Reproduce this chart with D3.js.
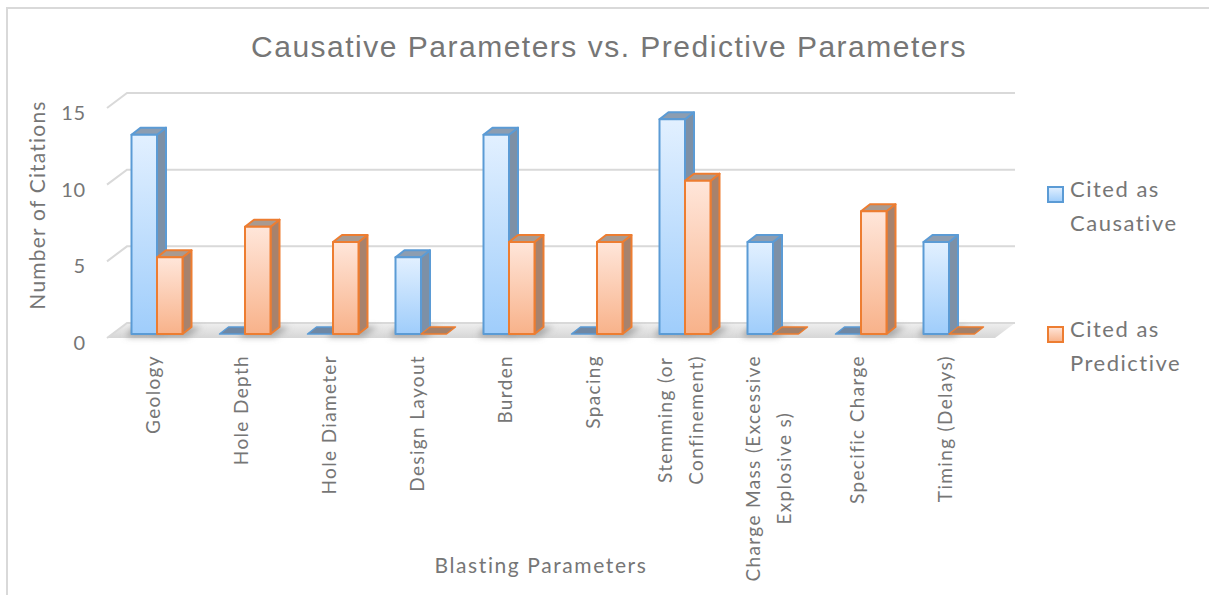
<!DOCTYPE html>
<html>
<head>
<meta charset="utf-8">
<script src="https://cdn.jsdelivr.net/npm/d3@7"></script>
<style>
  html, body { margin: 0; padding: 0; background: #fff; }
  svg { display: block; }
  text { fill: #767676; }
</style>
</head>
<body>
<svg id="chart" width="1209" height="595"></svg>
<script>
// Blasting parameters and how often each was cited
const categories = [
  "Geology", "Hole Depth", "Hole Diameter", "Design Layout", "Burden",
  "Spacing", "Stemming (or\nConfinement)", "Charge Mass (Excessive\nExplosive s)",
  "Specific Charge", "Timing (Delays)"
];
const seriesNames = ["Cited as Causative", "Cited as Predictive"];
const causative  = [13, 0, 0, 5, 13, 0, 14, 6, 0, 6];
const predictive = [5, 7, 6, 0, 6, 6, 10, 0, 8, 0];
const yTicks = [0, 5, 10, 15];

const svg = d3.select("#chart");
const labelFont = "Lato, 'Open Sans', sans-serif";

// 3D frame
const floorFrontY = 338, floorBackY = 323, wallDx = 20;
const plotLeft = 107, plotRight = 1015;
const barBaseY = 334, barDx = 9, barDy = 7;

const y = d3.scaleLinear().domain([0, 15]).range([0, 230]);
const x = d3.scaleBand().domain(categories).range([113, 993]);
const xs = d3.scaleBand().domain(seriesNames).range([-25.5, 25.5]);

const defs = svg.append("defs");
function grad(id, top, bottom) {
  const g = defs.append("linearGradient").attr("id", id)
    .attr("x1", 0).attr("y1", 0).attr("x2", 0).attr("y2", 1);
  g.append("stop").attr("offset", "0%").attr("stop-color", top);
  g.append("stop").attr("offset", "100%").attr("stop-color", bottom);
}
grad("gBlue", "#e2f0ff", "#9fcdfb");
grad("gOrange", "#ffe6da", "#f8b28a");
grad("gFloor", "#efefef", "#d6d6d6");
defs.append("filter").attr("id", "soft").attr("x", "-50%").attr("y", "-200%")
  .attr("width", "200%").attr("height", "500%")
  .append("feGaussianBlur").attr("stdDeviation", 3);

const styles = [
  { front: "url(#gBlue)", side: "#7d90a6", top: "#8c9db1", stroke: "#5b9bd5", flat: "#6f87a3" },
  { front: "url(#gOrange)", side: "#a7826d", top: "#a99a90", stroke: "#ed7d31", flat: "#a2806a" }
];

// outer frame
svg.append("rect").attr("x", 7).attr("y", 8).attr("width", 1400).attr("height", 700)
  .attr("fill", "none").attr("stroke", "#d9d9d9").attr("stroke-width", 2);

// floor
svg.append("path")
  .attr("d", `M${plotLeft},${floorFrontY} L${plotLeft + wallDx},${floorBackY} L${plotRight},${floorBackY} L${plotRight - wallDx},${floorFrontY} Z`)
  .attr("fill", "url(#gFloor)");

// gridlines on the back wall with diagonal lead-ins on the side
const grid = svg.append("g").attr("stroke", "#d9d9d9").attr("stroke-width", 2).attr("fill", "none");
yTicks.forEach(v => {
  grid.append("path")
    .attr("d", `M${plotLeft},${floorFrontY - y(v)} L${plotLeft + wallDx},${floorBackY - y(v)} L${plotRight},${floorBackY - y(v)}`);
});

// y tick labels
svg.append("g").selectAll("text").data(yTicks).join("text")
  .attr("x", 86).attr("y", d => 342 - y(d))
  .attr("text-anchor", "end").attr("dominant-baseline", "central")
  .style("font-family", labelFont).style("font-size", "20px")
  .style("letter-spacing", "0.8px")
  .text(d => d);

// shadows under the bars
const rows = categories.map((c, i) => [causative[i], predictive[i]]);
const shadow = svg.append("g").attr("filter", "url(#soft)");
categories.forEach((c, i) => {
  rows[i].forEach((v, s) => {
    if (v <= 0) return;
    const x0 = x(c) + x.bandwidth() / 2 + xs(seriesNames[s]);
    shadow.append("path")
      .attr("d", `M${x0 - 6},${barBaseY + 3} L${x0 + xs.bandwidth() + 4},${barBaseY + 3} L${x0 + xs.bandwidth() + barDx + 10},${barBaseY - barDy} L${x0 + 2},${barBaseY - barDy} Z`)
      .attr("fill", "#8f8f8f").attr("opacity", 0.75);
  });
});

// bars: front face, side face and top face
const bars = svg.append("g").attr("stroke-linejoin", "round");
categories.forEach((c, i) => {
  rows[i].forEach((v, s) => {
    const st = styles[s];
    const x0 = x(c) + x.bandwidth() / 2 + xs(seriesNames[s]);
    const x1 = x0 + xs.bandwidth();
    const h = y(v);
    const yt = barBaseY - h;
    const g = bars.append("g").attr("stroke", st.stroke).attr("stroke-width", 2);
    if (v <= 0) {
      g.append("path")
        .attr("d", `M${x0},${barBaseY} L${x1},${barBaseY} L${x1 + barDx},${barBaseY - barDy} L${x0 + barDx},${barBaseY - barDy} Z`)
        .attr("fill", st.flat).attr("stroke-width", 1.5);
      return;
    }
    g.append("path")
      .attr("d", `M${x1},${yt} L${x1 + barDx},${yt - barDy} L${x1 + barDx},${barBaseY - barDy} L${x1},${barBaseY} Z`)
      .attr("fill", st.side);
    g.append("path")
      .attr("d", `M${x0},${yt} L${x0 + barDx},${yt - barDy} L${x1 + barDx},${yt - barDy} L${x1},${yt} Z`)
      .attr("fill", st.top);
    g.append("rect").attr("x", x0).attr("y", yt).attr("width", x1 - x0).attr("height", h)
      .attr("fill", st.front);
  });
});

// category labels, rotated and centred as a block under each group
const catG = svg.append("g").style("font-family", labelFont).style("font-size", "19px")
  .style("letter-spacing", "1.35px");
categories.forEach(c => {
  const lines = c.split("\n");
  const g = catG.append("g");
  const texts = lines.map(l => g.append("text").text(l).attr("text-anchor", "middle"));
  const maxW = d3.max(texts, t => t.node().getComputedTextLength());
  const cx = x(c) + x.bandwidth() / 2 - 5;
  const lineGap = 31;
  const n = lines.length;
  g.attr("transform", `translate(${cx},${355 + maxW / 2}) rotate(-90)`);
  texts.forEach((t, k) => {
    t.attr("x", 0).attr("y", (k - (n - 1) / 2) * lineGap).attr("dominant-baseline", "central");
  });
});

// titles
svg.append("text").attr("x", 609).attr("y", 57).attr("text-anchor", "middle")
  .style("font-family", "'Liberation Sans', Arial, sans-serif").style("font-size", "30px")
  .style("letter-spacing", "1.5px")
  .text("Causative Parameters vs. Predictive Parameters");

svg.append("text").attr("x", 541).attr("y", 573).attr("text-anchor", "middle")
  .style("font-family", labelFont).style("font-size", "21px")
  .style("letter-spacing", "1.6px")
  .text("Blasting Parameters");

svg.append("text").attr("transform", "translate(36,205) rotate(-90)")
  .attr("text-anchor", "middle").attr("dominant-baseline", "central")
  .style("font-family", labelFont).style("font-size", "21px")
  .style("letter-spacing", "1.2px")
  .text("Number of Citations");

// legend
const legendRows = [
  { name: seriesNames[0], lines: ["Cited as", "Causative"], top: 187 },
  { name: seriesNames[1], lines: ["Cited as", "Predictive"], top: 327 }
];
const lg = svg.append("g");
legendRows.forEach((r, k) => {
  const st = styles[k];
  lg.append("rect").attr("x", 1048).attr("y", r.top).attr("width", 15).attr("height", 15)
    .attr("fill", st.front).attr("stroke", st.stroke).attr("stroke-width", 2);
  r.lines.forEach((l, j) => {
    lg.append("text").attr("x", 1070).attr("y", r.top + 1 + j * 34)
      .attr("dominant-baseline", "central")
      .style("font-family", labelFont).style("font-size", "22px")
      .style("letter-spacing", "1.5px")
      .text(l);
  });
});
</script>
</body>
</html>
